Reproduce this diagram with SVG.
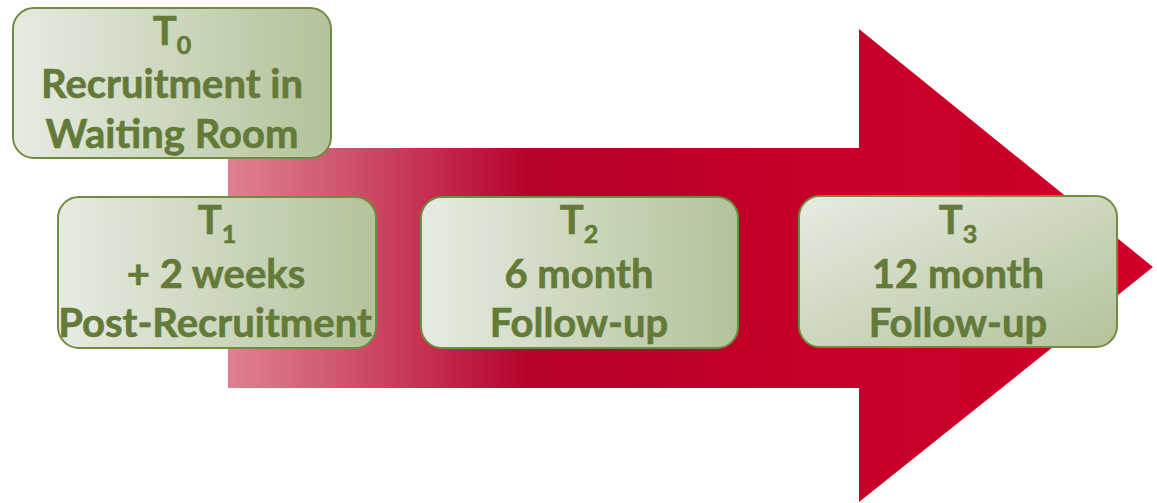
<svg xmlns="http://www.w3.org/2000/svg" width="1157" height="503" viewBox="0 0 1157 503">
  <defs>
    <linearGradient id="arrowFill" gradientUnits="userSpaceOnUse" x1="228" y1="0" x2="1153" y2="0">
      <stop offset="0" stop-color="#de8292"/>
      <stop offset="0.12" stop-color="#d05670"/>
      <stop offset="0.33" stop-color="#b6002a"/>
      <stop offset="0.6" stop-color="#c40028"/>
      <stop offset="1" stop-color="#cf0029"/>
    </linearGradient>
    <linearGradient id="boxFill" x1="0" y1="0" x2="1" y2="0">
      <stop offset="0" stop-color="#e6ebe1"/>
      <stop offset="1" stop-color="#b3c39b"/>
    </linearGradient>
    <linearGradient id="boxFillDiag" x1="0" y1="0" x2="1" y2="1">
      <stop offset="0" stop-color="#e6ebe1"/>
      <stop offset="1" stop-color="#b3c39b"/>
    </linearGradient>
  </defs>
  <style>
    .box { stroke: #6f8c40; stroke-width: 2; }
    .label { font-family: Lato, "Liberation Sans", sans-serif; font-weight: 700; font-size: 40px; fill: #637a38; text-anchor: middle; stroke: #637a38; stroke-width: 0.6; }
    .sub { font-size: 25px; }
  </style>

  <g id="timeline-arrow">
    <polygon points="228,148 859,148 859,29 1153,267 859,502 859,388 228,388" fill="url(#arrowFill)"/>
  </g>

  <g id="connectors"></g>

  <g id="t0">
    <rect class="box" x="13" y="8" width="318" height="150" rx="21" fill="url(#boxFill)"/>
    <text class="label" x="172" y="45">T<tspan class="sub" dy="9">0</tspan></text>
    <text class="label" x="172" y="98">Recruitment in</text>
    <text class="label" x="172" y="148">Waiting Room</text>
  </g>

  <g id="t1">
    <rect class="box" x="58" y="197" width="318" height="151" rx="21" fill="url(#boxFill)"/>
    <text class="label" x="217" y="234">T<tspan class="sub" dy="9">1</tspan></text>
    <text class="label" x="216" y="288">+ 2 weeks</text>
    <text class="label" x="215" y="337">Post-Recruitment</text>
  </g>

  <g id="t2">
    <rect class="box" x="421" y="197" width="317" height="151" rx="21" fill="url(#boxFill)"/>
    <text class="label" x="579" y="234">T<tspan class="sub" dy="9">2</tspan></text>
    <text class="label" x="579" y="288">6 month</text>
    <text class="label" x="579" y="337">Follow-up</text>
  </g>

  <g id="t3">
    <rect class="box" x="799" y="196" width="318" height="151" rx="21" fill="url(#boxFillDiag)"/>
    <text class="label" x="958" y="234">T<tspan class="sub" dy="9">3</tspan></text>
    <text class="label" x="958" y="288">12 month</text>
    <text class="label" x="958" y="337">Follow-up</text>
  </g>
</svg>
